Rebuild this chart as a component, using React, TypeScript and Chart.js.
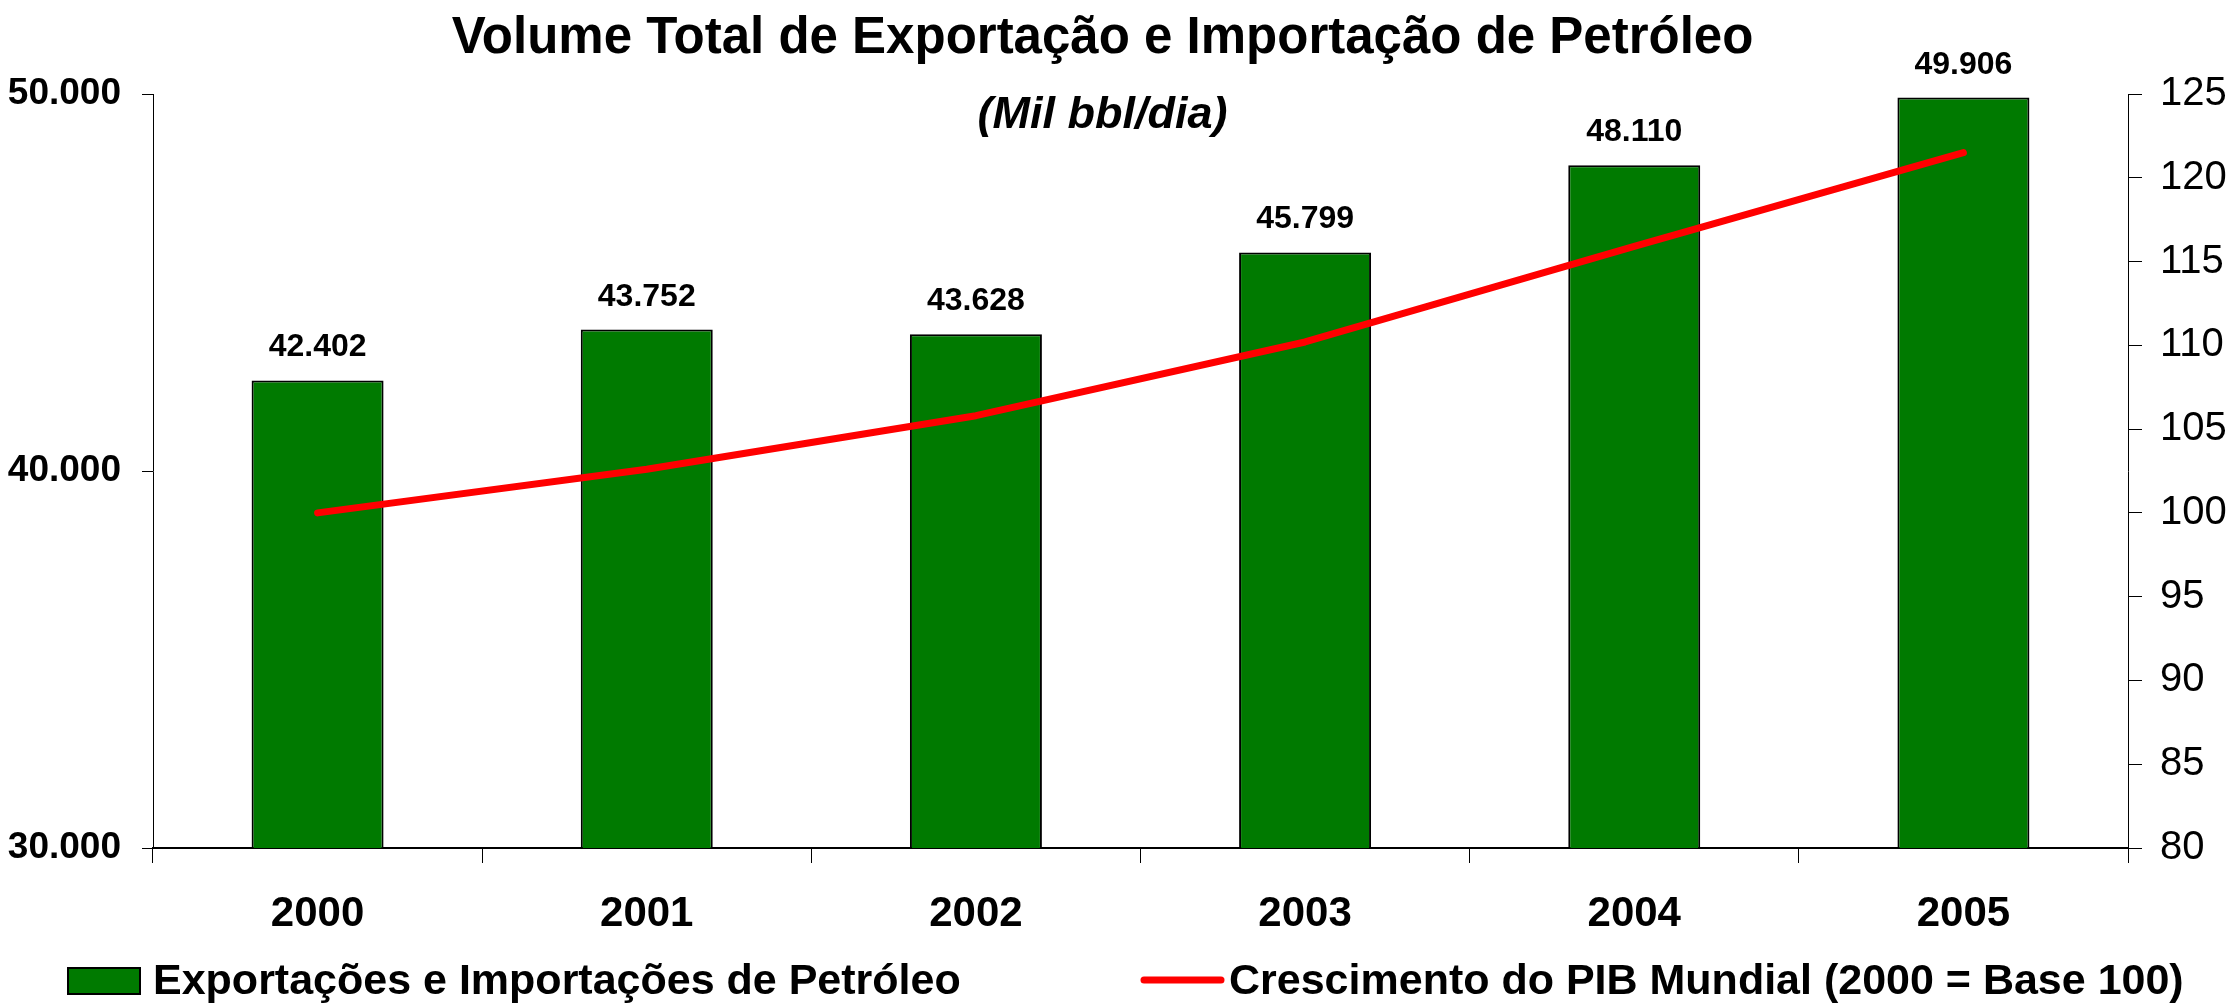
import React, { useEffect, useRef } from 'react';
import { Chart, registerables } from 'chart.js';

Chart.register(...registerables);

const years = ['2000', '2001', '2002', '2003', '2004', '2005'];
const tradeVolume = [42402, 43752, 43628, 45799, 48110, 49906];
const gdpIndex = [100, 102.6, 105.8, 110.2, 115.9, 121.5];

const TITLE = 'Volume Total de Exportação e Importação de Petróleo';
const SUBTITLE = '(Mil bbl/dia)';
const BAR_LABEL = 'Exportações e Importações de Petróleo';
const LINE_LABEL = 'Crescimento do PIB Mundial (2000 = Base 100)';

const FONT = '"Liberation Sans", Arial, sans-serif';
const GREEN = '#007A00';
const RED = '#FF0000';

const fmt = (v: number) =>
  Math.round(v)
    .toString()
    .replace(/\B(?=(\d{3})+(?!\d))/g, '.');

const overlay = {
  id: 'overlay',
  afterDraw(chart: any) {
    const ctx = chart.ctx as CanvasRenderingContext2D;
    const area = chart.chartArea;
    ctx.save();
    ctx.fillStyle = '#000';
    ctx.textBaseline = 'alphabetic';
    ctx.textAlign = 'center';

    // title + subtitle
    const cx = area.left + (area.right - area.left) / 2 - 38;
    ctx.font = `bold 51px ${FONT}`;
    ctx.fillText(TITLE, cx, 53);
    ctx.font = `italic bold 45px ${FONT}`;
    ctx.fillText(SUBTITLE, cx, 128);

    // data labels
    ctx.font = `bold 32px ${FONT}`;
    const meta = chart.getDatasetMeta(0);
    meta.data.forEach((el: any, i: number) => {
      ctx.fillText(fmt(tradeVolume[i]), el.x, el.y - 24);
    });

    // legend
    const ds = chart.data.datasets;
    ctx.textAlign = 'left';
    ctx.font = `bold 43px ${FONT}`;
    ctx.fillStyle = GREEN;
    ctx.fillRect(68, 968, 72, 26);
    ctx.lineWidth = 2;
    ctx.strokeStyle = '#000';
    ctx.strokeRect(68, 968, 72, 26);
    ctx.fillStyle = '#000';
    ctx.fillText(ds[0].label, 153, 994);

    ctx.strokeStyle = RED;
    ctx.lineWidth = 7;
    ctx.lineCap = 'round';
    ctx.beginPath();
    ctx.moveTo(1144, 980);
    ctx.lineTo(1221, 980);
    ctx.stroke();
    ctx.fillText(ds[1].label, 1229, 994);

    ctx.restore();
  },
};

export default function App() {
  const ref = useRef<HTMLCanvasElement | null>(null);

  useEffect(() => {
    if (!ref.current) return;
    const chart = new Chart(ref.current, {
      type: 'bar',
      data: {
        labels: years,
        datasets: [
          {
            type: 'bar',
            label: BAR_LABEL,
            data: tradeVolume,
            yAxisID: 'y',
            backgroundColor: GREEN,
            borderColor: '#000',
            borderWidth: 2,
            categoryPercentage: 1,
            barPercentage: 0.401,
            order: 2,
          },
          {
            type: 'line',
            label: LINE_LABEL,
            data: gdpIndex,
            yAxisID: 'y1',
            borderColor: RED,
            backgroundColor: RED,
            borderWidth: 7,
            borderCapStyle: 'round',
            borderJoinStyle: 'round',
            pointRadius: 0,
            tension: 0,
            order: 1,
          },
        ] as any,
      },
      options: {
        responsive: false,
        animation: false,
        layout: { padding: { top: 94, left: 0, right: 0, bottom: 0 } },
        plugins: {
          legend: { display: false },
          title: { display: false },
          tooltip: { enabled: false },
        },
        scales: {
          x: {
            offset: true,
            grid: {
              offset: true,
              drawOnChartArea: false,
              drawTicks: true,
              tickLength: 15,
              color: '#000',
              lineWidth: 1,
            },
            border: { color: '#000', width: 2 },
            ticks: {
              color: '#000',
              font: { family: FONT, size: 42, weight: 'bold' },
              padding: 26,
              maxRotation: 0,
            },
            afterFit: (s: any) => {
              s.height = 156;
            },
          },
          y: {
            position: 'left',
            min: 30000,
            max: 50000,
            grid: {
              drawOnChartArea: false,
              drawTicks: true,
              tickLength: 11,
              color: '#000',
            },
            border: { color: '#000', width: 1 },
            ticks: {
              stepSize: 10000,
              color: '#000',
              font: { family: FONT, size: 37, weight: 'bold' },
              padding: 21,
              callback: (v: any) => fmt(Number(v)),
            },
            afterFit: (s: any) => {
              s.width = 153;
            },
          },
          y1: {
            position: 'right',
            min: 80,
            max: 125,
            grid: {
              drawOnChartArea: false,
              drawTicks: true,
              tickLength: 14,
              color: '#000',
            },
            border: { color: '#000', width: 1 },
            ticks: {
              stepSize: 5,
              color: '#000',
              font: { family: FONT, size: 40 },
              padding: 18,
            },
            afterFit: (s: any) => {
              s.width = 108;
            },
          },
        },
      } as any,
      plugins: [overlay],
    });
    return () => chart.destroy();
  }, []);

  return (
    <div style={{ position: 'fixed', left: 0, top: 0, width: 2236, height: 1004, background: '#fff' }}>
      <canvas ref={ref} width={2236} height={1004} style={{ display: 'block' }} />
    </div>
  );
}
